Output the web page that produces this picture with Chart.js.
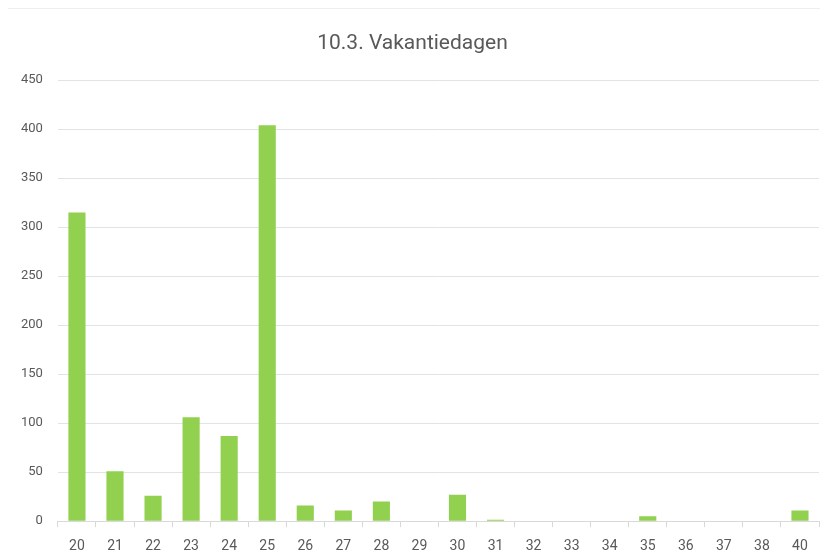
<!DOCTYPE html>
<html>
<head>
<meta charset="utf-8">
<script src="https://cdn.jsdelivr.net/npm/chart.js@4"></script>
<style>
html,body{margin:0;padding:0;background:#fff;}
#wrap{width:828px;height:554px;position:relative;}
#topline{position:absolute;left:8px;right:8px;top:8px;height:1px;background:#eeeeee;}
</style>
</head>
<body>
<div id="wrap">
<div id="topline"></div>
<canvas id="chart" width="828" height="554"></canvas>
</div>
<script>
// Vakantiedagen per category
const days=["20","21","22","23","24","25","26","27","28","29","30","31","32","33","34","35","36","37","38","40"];
const counts=[315,51,26,106,87,404,16,11,20,0,27,1.5,0.5,0,0,5,0,0,0,11];
const yTicks=[0,50,100,150,200,250,300,350,400,450];

const font="'Liberation Sans Narrow','Roboto','Liberation Sans',sans-serif";

new Chart(document.getElementById("chart"),{
  type:"bar",
  data:{
    labels:days,
    datasets:[{
      label:"Vakantiedagen",
      data:counts,
      backgroundColor:"#92D050",
      borderWidth:0,
      barPercentage:0.45,
      categoryPercentage:1
    }]
  },
  options:{
    responsive:false,
    animation:false,
    layout:{padding:{left:6,right:9,top:31,bottom:-12}},
    plugins:{
      legend:{display:false},
      tooltip:{enabled:false},
      title:{
        display:true,
        text:"10.3. Vakantiedagen",
        color:"#595959",
        font:{family:font,size:21,weight:"normal"},
        padding:{top:0,bottom:24}
      }
    },
    scales:{
      x:{
        grid:{display:true,drawOnChartArea:false,offset:true,color:"#d9d9d9",tickLength:6},
        border:{display:true,color:"#d9d9d9"},
        ticks:{color:"#595959",font:{family:font,size:14},padding:11,maxRotation:0,autoSkip:false}
      },
      y:{
        min:0,max:450,
        afterBuildTicks:axis=>{axis.ticks=yTicks.map(v=>({value:v}));},
        grid:{color:"#e3e3e3",drawTicks:false},
        border:{display:false},
        ticks:{color:"#595959",font:{family:font,size:13},padding:15}
      }
    }
  }
});
</script>
</body>
</html>
